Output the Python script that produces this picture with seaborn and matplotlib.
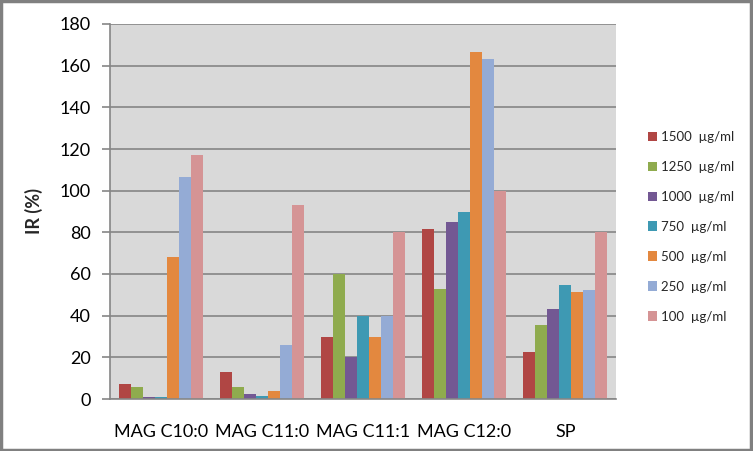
import matplotlib
matplotlib.use("Agg")
import matplotlib.pyplot as plt
import seaborn as sns
import pandas as pd
from matplotlib.patches import Rectangle, Patch

categories = ["MAG C10:0", "MAG C11:0", "MAG C11:1", "MAG C12:0", "SP"]
series_labels = ["1500  µg/ml", "1250  µg/ml", "1000  µg/ml", "750  µg/ml",
                 "500  µg/ml", "250  µg/ml", "100  µg/ml"]
v1500 = [7.2, 13.0, 30.0, 81.5, 22.5]
v1250 = [5.7, 5.7, 60.0, 53.0, 35.5]
v1000 = [0.9, 2.4, 20.0, 85.0, 43.0]
v750 = [0.9, 1.4, 40.0, 90.0, 54.5]
v500 = [68.0, 4.0, 30.0, 166.5, 51.5]
v250 = [106.8, 25.8, 40.0, 163.0, 52.5]
v100 = [117.2, 93.3, 80.0, 100.0, 80.0]
yticks = [0, 20, 40, 60, 80, 100, 120, 140, 160, 180]

colors = ["#B04644", "#8FAB4E", "#735893", "#3E99B3", "#E3883F", "#94ABD5", "#D59495"]

all_vals = [v1500, v1250, v1000, v750, v500, v250, v100]
rows = []
for lab, vals in zip(series_labels, all_vals):
    for c, v in zip(categories, vals):
        rows.append({"cat": c, "series": lab, "val": v})
df = pd.DataFrame(rows)

sns.set_theme(style="white")
plt.rcParams['font.family'] = ['Lato', 'DejaVu Sans']

fig = plt.figure(figsize=(7.53, 4.51), dpi=100)
ax = fig.add_axes([110/753, 52/451, 506/753, 375/451])
ax.set_facecolor("#D9D9D9")

sns.barplot(data=df, x="cat", y="val", hue="series", order=categories,
            hue_order=series_labels, palette=colors, width=0.83, gap=0,
            saturation=1, linewidth=0, ax=ax, legend=False, errorbar=None)

ax.set_ylim(0, 180)
ax.set_yticks(yticks)
ax.set_xlim(-0.5, len(categories) - 0.5)
ax.yaxis.grid(True, color="#868686", linewidth=1.2)
ax.set_axisbelow(True)
for s in ["top", "right"]:
    ax.spines[s].set_visible(False)
for s in ["left", "bottom"]:
    ax.spines[s].set_color("#868686")
    ax.spines[s].set_linewidth(1.2)
ax.tick_params(axis="y", which="major", left=True, length=6, width=1.2,
               color="#868686", labelsize=13, pad=8, labelcolor="black")
ax.tick_params(axis="x", bottom=False, labelsize=13, pad=12, labelcolor="black")
ax.set_xlabel("")
ax.set_ylabel("IR (%)", fontsize=13, fontweight="bold", labelpad=12)

handles = [Patch(facecolor=c, edgecolor="none") for c in colors]
fig.legend(handles, series_labels, loc="upper left",
           bbox_to_anchor=(636/753, 1 - 119/451), frameon=False,
           fontsize=9.5, handlelength=0.7, handleheight=0.7,
           handletextpad=0.3, labelspacing=1.36)

fig.patches.append(Rectangle((0.001, 0.002), 0.996, 0.995, transform=fig.transFigure,
                             fill=False, edgecolor="#808080", linewidth=2.5))

fig.savefig("out.png", dpi=100, facecolor="white")
